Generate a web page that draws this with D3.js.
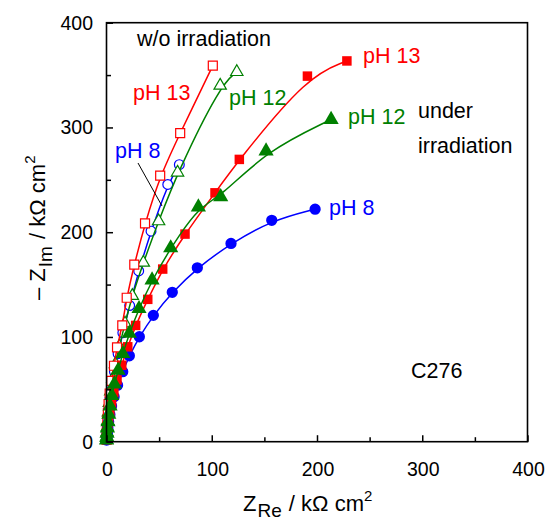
<!DOCTYPE html>
<html>
<head>
<meta charset="utf-8">
<script src="https://cdn.jsdelivr.net/npm/d3@7/dist/d3.min.js"></script>
<style>
  body { margin: 0; background: #fff; }
  svg text { font-family: "Liberation Sans", Arial, sans-serif; }
</style>
</head>
<body>
<svg id="nyquist" width="550" height="522"></svg>
<script>
// Nyquist data, [Z_Re, -Z_Im] in kOhm cm2
var ph13Dark = [[101,359],[70,294.5],[51,254],[36.6,208.5],[26.4,169],[19.2,137.4],[15,111],[10,90],[7.1,72.5],[4.5,58],[3,46],[2,36],[1.3,27],[0.8,20],[0.5,14],[0.3,9],[0.2,5],[0.1,2]];
var ph12Dark = [[123.8,353],[108,340],[67.5,257],[49.5,210.5],[35,171],[24.5,139.3],[17.6,113],[12.2,91],[8.5,74],[6,60],[4,48],[2.7,37],[1.8,28],[1.2,20],[0.8,14],[0.5,9],[0.3,5],[0.1,2]];
var ph8Dark = [[69.2,264.5],[58.2,245.6],[42.3,201],[30.6,163],[22,130],[15.5,104],[11,84],[7.5,67],[5,53],[3.3,41],[2.2,31],[1.4,23],[0.9,16],[0.5,10],[0.3,5],[0.1,2]];
var ph13Light = [[228.4,363.5],[190.9,349],[126.2,269.5],[103.1,237.6],[74.6,198.2],[53.4,164.8],[39.2,135.9],[27.7,111],[20.2,90.6],[14.5,73],[10,59],[7,47],[4.8,37],[3.2,28],[2,20],[1.2,14],[0.7,9],[0.4,5],[0.1,2]];
var ph12Light = [[213.4,307.6],[151.6,277.4],[108.5,233.8],[87.3,224],[61,185],[43.3,154.3],[30.9,127],[21.7,103.4],[15.5,84],[11,68],[7.5,55],[5,44],[3.4,34],[2.2,26],[1.4,19],[0.9,13],[0.5,8],[0.3,4],[0.1,1.5]];
var ph8Light = [[198.2,222],[157,211.3],[118.3,189.3],[86.3,166],[62.5,142.6],[44.5,120.6],[31.2,100.2],[21.7,82],[15.4,66.8],[10.5,54],[7.2,43],[4.8,34],[3.2,26],[2,19],[1.3,13],[0.8,8],[0.4,4],[0.1,1.5]];

var xTicks = [0, 100, 200, 300, 400];
var yTicks = [0, 100, 200, 300, 400];

var svg = d3.select("svg#nyquist");

var x = d3.scaleLinear().domain([0, 400]).range([106.5, 527.5]);
var y = d3.scaleLinear().domain([0, 400]).range([441.7, 22.7]);

// series: drawn in this order, filled green last (it sits on top near origin)
var series = [
	{data: ph8Dark, color: "#0000ff", shape: d3.symbolCircle, size: 75, open: true},
	{data: ph12Dark, color: "#008000", shape: d3.symbolTriangle, size: 66, open: true},
	{data: ph13Dark, color: "#ff0000", shape: d3.symbolSquare, size: 81, open: true},
	{data: ph8Light, color: "#0000ff", shape: d3.symbolCircle, size: 100, open: false},
	{data: ph13Light, color: "#ff0000", shape: d3.symbolSquare, size: 90, open: false},
	{data: ph12Light, color: "#008000", shape: d3.symbolTriangle, size: 100, open: false}
];

var line = d3.line()
		.x(function (d) { return x(d[0]); })
		.y(function (d) { return y(d[1]); })
		.curve(d3.curveBasis);

series.forEach(function (s) {
	var g = svg.append("g");
	g.append("path")
			.attr("d", line(s.data))
			.attr("fill", "none")
			.attr("stroke", s.color)
			.attr("stroke-width", 1.5);
	g.selectAll(".pt")
			.data(s.data)
			.enter()
			.append("path")
			.attr("transform", function (d) {
				return "translate(" + x(d[0]) + "," + y(d[1]) + ")";
			})
			.attr("d", d3.symbol().type(s.shape).size(s.size))
			.attr("fill", s.open ? "#fff" : s.color)
			.attr("stroke", s.color)
			.attr("stroke-width", s.open ? 1.2 : 0);
});

// frame
svg.append("rect")
		.attr("x", x(0)).attr("y", y(400))
		.attr("width", x(400) - x(0)).attr("height", y(0) - y(400))
		.attr("fill", "none").attr("stroke", "#000").attr("stroke-width", 1.6);

// inward ticks
var xAxis = d3.axisBottom(x).tickValues(d3.range(0, 401, 50)).tickSize(-6.5).tickFormat("");
var gx = svg.append("g").attr("transform", "translate(0," + y(0) + ")").call(xAxis);
var yAxis = d3.axisLeft(y).tickValues(d3.range(0, 401, 50)).tickSize(-6.5).tickFormat("");
var gy = svg.append("g").attr("transform", "translate(" + x(0) + ",0)").call(yAxis);
[gx, gy].forEach(function (g) {
	g.select(".domain").remove();
	g.selectAll("line").attr("stroke", "#000").attr("stroke-width", 1.5);
	g.selectAll(".tick").each(function (d) {
		if (d % 100 !== 0) d3.select(this).select("line").attr(g === gx ? "y2" : "x2", g === gx ? -4.5 : 4.5);
	});
});

svg.selectAll(".xlab")
		.data(xTicks)
		.enter().append("text")
		.attr("x", function (d) { return x(d) + 1; })
		.attr("y", 475.5)
		.attr("text-anchor", "middle")
		.attr("font-size", 19.5)
		.text(function (d) { return d; });

svg.selectAll(".ylab")
		.data(yTicks)
		.enter().append("text")
		.attr("x", 93)
		.attr("y", function (d) { return y(d) + 7; })
		.attr("text-anchor", "end")
		.attr("font-size", 19.5)
		.text(function (d) { return d; });

// axis titles
var xt = svg.append("text")
		.attr("x", 243).attr("y", 511)
		.attr("font-size", 22);
xt.append("tspan").text("Z");
xt.append("tspan").attr("dy", 6).attr("dx", 1).attr("font-size", 19).text("Re");
xt.append("tspan").attr("dy", -6).attr("dx", 1).text(" / kΩ cm");
xt.append("tspan").attr("dy", -10).attr("font-size", 15).text("2");

var yt = svg.append("text")
		.attr("transform", "translate(45,300)rotate(-90)")
		.attr("font-size", 22);
yt.append("tspan").text("– Z");
yt.append("tspan").attr("dy", 7).attr("dx", 1).attr("font-size", 19).text("Im");
yt.append("tspan").attr("dy", -7).attr("dx", 1).text(" / kΩ cm");
yt.append("tspan").attr("dy", -10).attr("font-size", 15).text("2");

// annotations
var notes = [
	{t: "w/o irradiation", x: 137, y: 46, c: "#000"},
	{t: "pH 13", x: 133, y: 100, c: "#ff0000"},
	{t: "pH 12", x: 229, y: 105, c: "#008000"},
	{t: "pH 8", x: 115, y: 158, c: "#0000ff"},
	{t: "pH 13", x: 363, y: 63, c: "#ff0000"},
	{t: "pH 12", x: 348, y: 124, c: "#008000"},
	{t: "under", x: 418, y: 118, c: "#000"},
	{t: "irradiation", x: 418, y: 153, c: "#000"},
	{t: "pH 8", x: 329, y: 215, c: "#0000ff"},
	{t: "C276", x: 411, y: 378, c: "#000"}
];
svg.selectAll(".note")
		.data(notes)
		.enter().append("text")
		.attr("x", function (d) { return d.x; })
		.attr("y", function (d) { return d.y; })
		.attr("fill", function (d) { return d.c; })
		.attr("font-size", 21.5)
		.text(function (d) { return d.t; });

// leader line for pH 8 (w/o)
svg.append("line")
		.attr("x1", 138).attr("y1", 163)
		.attr("x2", 162).attr("y2", 206)
		.attr("stroke", "#000").attr("stroke-width", 1);
</script>
</body>
</html>
